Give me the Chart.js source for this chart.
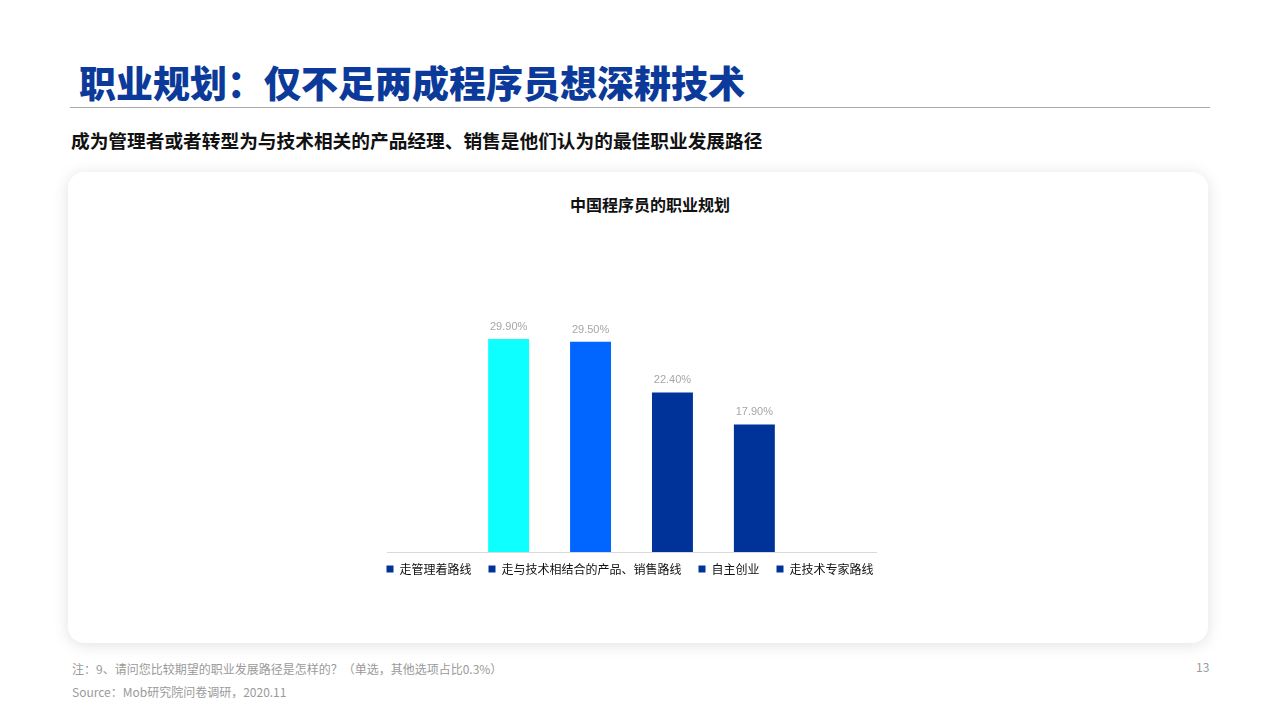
<!DOCTYPE html>
<html>
<head>
<meta charset="utf-8">
<script src="https://cdn.jsdelivr.net/npm/chart.js@4"></script>
<style>
  body { margin: 0; width: 1280px; height: 720px; background: #fff; position: relative; overflow: hidden;
         font-family: "Noto Sans CJK SC", "Noto Sans", sans-serif; }
  .title { position: absolute; left: 79px; top: 55px; font-size: 37px; font-weight: 900; color: #0b3a9a; }
  .rule { position: absolute; left: 70px; top: 107px; width: 1140px; height: 1px; background: #a9a9a9; }
  .sub { position: absolute; left: 71px; top: 126px; font-size: 18.7px; font-weight: 700; color: #111; }
  .card { position: absolute; left: 68px; top: 172px; width: 1140px; height: 471px; background: #fff;
          border-radius: 16px; box-shadow: 0 2px 16px rgba(0,0,0,0.12); }
  .ctitle { position: absolute; left: 0; width: 1300px; top: 192px; text-align: center; font-size: 16px; font-weight: 700; color: #111; }
  .wrap { position: absolute; left: 200px; top: 220px; width: 860px; height: 371px; }
  .note { position: absolute; left: 72px; font-size: 12px; color: #9a9a9a; }
  .page { position: absolute; left: 1196px; top: 658px; font-size: 12px; color: #9a9a9a; }
</style>
</head>
<body>
<div class="title">职业规划：仅不足两成程序员想深耕技术</div>
<div class="rule"></div>
<div class="sub">成为管理者或者转型为与技术相关的产品经理、销售是他们认为的最佳职业发展路径</div>
<div class="card"></div>
<div class="ctitle">中国程序员的职业规划</div>
<div class="wrap"><canvas id="c"></canvas></div>
<div class="note" style="top:660px">注：9、请问您比较期望的职业发展路径是怎样的？（单选，其他选项占比0.3%）</div>
<div class="note" style="top:683px">Source：Mob研究院问卷调研，2020.11</div>
<div class="page">13</div>
<script>
const categories = ['中国程序员的职业规划'];
const seriesNames = ['走管理着路线', '走与技术相结合的产品、销售路线', '自主创业', '走技术专家路线'];
const seriesValues = [29.9, 29.5, 22.4, 17.9];
const seriesColors = ['#0dffff', '#0066ff', '#003399', '#003399'];

const valueLabels = {
  id: 'valueLabels',
  afterDatasetsDraw(chart) {
    const ctx = chart.ctx;
    ctx.save();
    ctx.font = '11px "Liberation Sans", Arial, sans-serif';
    ctx.fillStyle = '#a6a6a6';
    ctx.textAlign = 'center';
    ctx.textBaseline = 'middle';
    chart.data.datasets.forEach((ds, i) => {
      chart.getDatasetMeta(i).data.forEach((bar, j) => {
        ctx.fillText(ds.data[j].toFixed(2) + '%', bar.x, bar.y - 12);
      });
    });
    ctx.restore();
  }
};

// invisible side axes only used to narrow the plot area
const spacer = (pos, w) => ({
  position: pos,
  display: true,
  ticks: { display: false },
  grid: { display: false },
  border: { display: false },
  afterFit(scale) { scale.width = w; }
});

new Chart(document.getElementById('c'), {
  type: 'bar',
  data: {
    labels: categories,
    datasets: seriesNames.map((name, i) => ({
      label: name,
      data: [seriesValues[i]],
      backgroundColor: seriesColors[i],
      barPercentage: 0.5,
      categoryPercentage: 0.67
    }))
  },
  options: {
    responsive: true,
    maintainAspectRatio: false,
    animation: false,
    layout: { padding: { left: 0, right: 0, top: 47, bottom: 0 } },
    scales: {
      x: {
        ticks: { display: false },
        grid: { display: false },
        border: { color: '#d9d9d9' },
        afterFit(scale) { scale.height = -6; }
      },
      y: Object.assign(spacer('left', 187), { min: 0, max: 40 }),
      y2: spacer('right', 184)
    },
    plugins: {
      tooltip: { enabled: false },
      legend: {
        position: 'bottom',
        labels: {
          boxWidth: 7,
          boxHeight: 7,
          padding: 17,
          color: '#111',
          font: { size: 12, family: '"Noto Sans CJK SC", sans-serif' },
          generateLabels(chart) {
            return Chart.defaults.plugins.legend.labels.generateLabels(chart).map(l => {
              l.fillStyle = '#003399';
              l.strokeStyle = '#003399';
              l.lineWidth = 0;
              return l;
            });
          }
        }
      }
    }
  },
  plugins: [valueLabels]
});
</script>
</body>
</html>
